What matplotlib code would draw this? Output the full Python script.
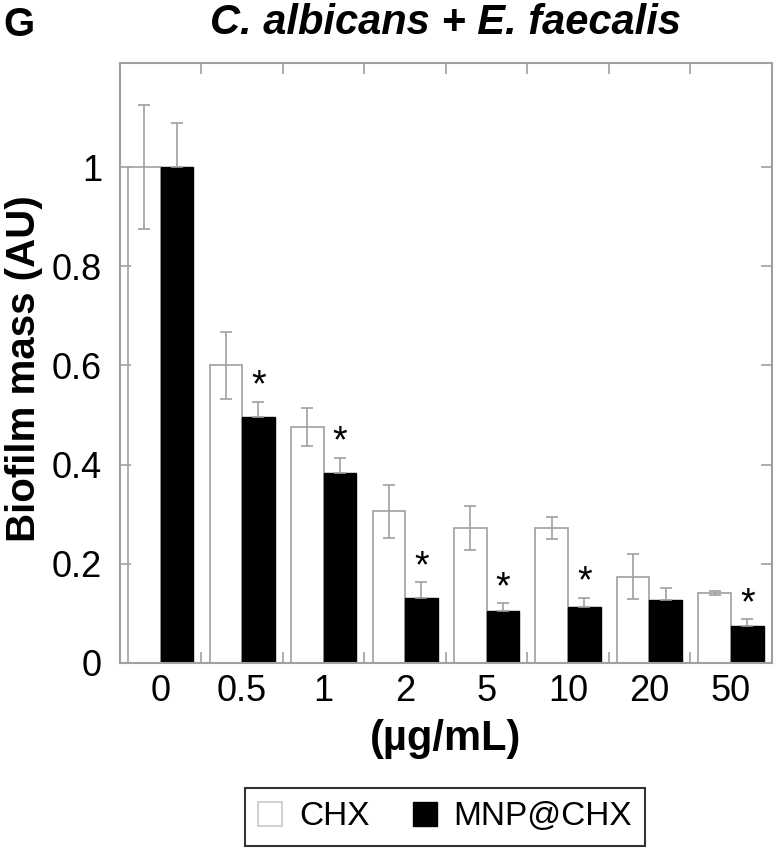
import numpy as np
import matplotlib
matplotlib.use("Agg")
import matplotlib.pyplot as plt

plt.rcParams['font.family'] = ['Liberation Sans', 'DejaVu Sans']

conc = ["0", "0.5", "1", "2", "5", "10", "20", "50"]
chx = [1.0, 0.60, 0.476, 0.306, 0.272, 0.273, 0.174, 0.141]
chx_err = [0.125, 0.068, 0.039, 0.053, 0.045, 0.022, 0.045, 0.004]
mnp = [1.0, 0.497, 0.384, 0.131, 0.104, 0.113, 0.127, 0.075]
mnp_err = [0.088, 0.030, 0.030, 0.032, 0.016, 0.019, 0.024, 0.013]
signif = [False, True, True, True, True, True, False, True]

grey = "#a0a0a0"
x = np.arange(len(conc))
w = 0.4

fig = plt.figure(figsize=(7.74, 8.5), dpi=100)
ax = fig.add_axes([0.155, 0.22, 0.842, 0.706])

ax.bar(x - w / 2, chx, w, color="white", edgecolor=grey, linewidth=1.2,
       yerr=chx_err, error_kw=dict(ecolor=grey, elinewidth=1.2, capsize=4, capthick=1.2),
       label="CHX")
ax.bar(x + w / 2, mnp, w, color="black", edgecolor="black", linewidth=1,
       yerr=[np.zeros(len(mnp)), mnp_err],
       error_kw=dict(ecolor=grey, elinewidth=1.2, capsize=4, capthick=1.2),
       label="MNP@CHX")

for i, s in enumerate(signif):
    if s:
        ax.text(x[i] + w / 2, mnp[i] + mnp_err[i] - 0.006, "*", ha="center", va="bottom",
                fontsize=27)

ax.set_xlim(-0.5, len(conc) - 0.5)
ax.set_ylim(0, 1.21)
ax.set_yticks([0, 0.2, 0.4, 0.6, 0.8, 1])
ax.set_yticklabels(["0", "0.2", "0.4", "0.6", "0.8", "1"], fontsize=26)
ax.set_xticks(x)
ax.set_xticklabels(conc, fontsize=26)
ax.tick_params(axis="x", length=0, pad=8)
ax.set_xticks(x[:-1] + 0.5, minor=True)
ax.tick_params(axis="x", which="minor", direction="in", length=8, color=grey,
               top=True, bottom=True, width=1.2)
ax.tick_params(axis="y", direction="in", length=8, color=grey, right=True, left=True,
               width=1.2, pad=13)

for sp in ax.spines.values():
    sp.set_color(grey)
    sp.set_linewidth(1.5)

ax.set_ylabel("Biofilm mass (AU)", fontsize=29, fontweight="bold")
ax.yaxis.set_label_coords(-0.118, 0.49)
ax.set_xlabel("(µg/mL)", fontsize=30, fontweight="bold", labelpad=7)
ax.set_title("C. albicans + E. faecalis", fontsize=30, fontweight="bold",
             fontstyle="italic", pad=21)
fig.text(0.005, 0.993, "G", fontsize=29, fontweight="bold", va="top")

leg = fig.legend(loc="upper center", bbox_to_anchor=(0.575, 0.073), ncol=2,
                 fontsize=24, frameon=True, fancybox=False, handlelength=0.72,
                 handleheight=0.72, columnspacing=1.3, borderpad=0.4,
                 handletextpad=0.5, borderaxespad=0)
leg.get_frame().set_edgecolor("black")
leg.get_frame().set_linewidth(1.5)
leg.legend_handles[0].set_edgecolor("#c8c8c8")

fig.savefig("out.png", dpi=100)
